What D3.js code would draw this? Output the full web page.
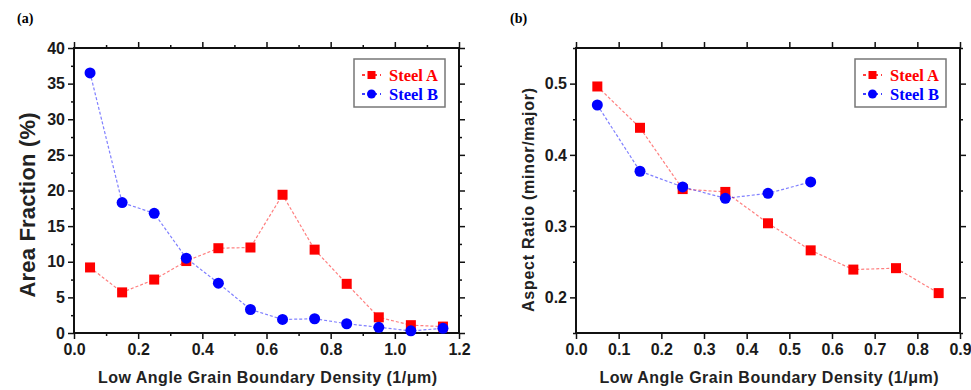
<!DOCTYPE html>
<html>
<head>
<meta charset="utf-8">
<script src="https://cdn.jsdelivr.net/npm/d3@7"></script>
<style>
  body { margin: 0; background: #fff; }
  svg { display: block; }
  .tick text { font-family: "Liberation Sans", Arial, sans-serif; font-weight: bold; font-size: 16px; fill: #1a1a1a; }
</style>
</head>
<body>
<svg id="chart" width="971" height="390"></svg>
<script>
// panel (a) data
var densityA = [0.05, 0.15, 0.25, 0.35, 0.45, 0.55, 0.65, 0.75, 0.85, 0.95, 1.05, 1.15];
var areaSteelA = [9.2, 5.7, 7.5, 10.1, 11.9, 12.0, 19.4, 11.7, 6.9, 2.2, 1.1, 0.9];
var areaSteelB = [36.5, 18.3, 16.8, 10.5, 7.0, 3.3, 1.9, 2.0, 1.3, 0.8, 0.3, 0.65];

// panel (b) data
var densityB_A = [0.05, 0.15, 0.25, 0.35, 0.45, 0.55, 0.65, 0.75, 0.85];
var ratioSteelA = [0.496, 0.438, 0.352, 0.348, 0.304, 0.266, 0.239, 0.241, 0.206];
var densityB_B = [0.05, 0.15, 0.25, 0.35, 0.45, 0.55];
var ratioSteelB = [0.470, 0.377, 0.355, 0.339, 0.346, 0.362];

var seriesNames = ["Steel A", "Steel B"];
var xLabel = "Low Angle Grain Boundary Density (1/\u03bcm)";

var red = "#ff0000", blue = "#0000ff";
var svg = d3.select("#chart");

function panel(opts) {
  var g = svg.append("g");
  var x = d3.scaleLinear().domain(opts.xDomain).range([opts.left, opts.right]);
  var y = d3.scaleLinear().domain(opts.yDomain).range([opts.bottom, opts.top]);

  // minor ticks (short, no labels)
  function minor(axis, vals, pos) {
    g.append("g").attr("transform", pos)
      .call(axis.tickValues(vals).tickSize(3).tickFormat(""))
      .call(function(s){ s.select(".domain").remove(); s.selectAll("line").attr("stroke", "#111").attr("stroke-width", 1.5); });
  }
  minor(d3.axisBottom(x), opts.xMinor, "translate(0," + opts.bottom + ")");
  minor(d3.axisTop(x), opts.xMinor, "translate(0," + opts.top + ")");
  minor(d3.axisLeft(y), opts.yMinor, "translate(" + opts.left + ",0)");
  minor(d3.axisRight(y), opts.yMinor, "translate(" + opts.right + ",0)");

  // major ticks
  function major(axis, vals, pos, fmt, pad) {
    var a = g.append("g").attr("transform", pos)
      .call(axis.tickValues(vals).tickSize(6).tickPadding(pad || 3).tickFormat(fmt || ""));
    a.select(".domain").remove();
    a.selectAll("line").attr("stroke", "#111").attr("stroke-width", 1.5);
    return a;
  }
  major(d3.axisBottom(x), opts.xTicks, "translate(0," + opts.bottom + ")", opts.xFmt, 5);
  major(d3.axisTop(x), opts.xTicks, "translate(0," + opts.top + ")");
  major(d3.axisLeft(y), opts.yTicks, "translate(" + opts.left + ",0)", opts.yFmt, 3);
  major(d3.axisRight(y), opts.yTicks, "translate(" + opts.right + ",0)");

  // frame
  g.append("rect")
    .attr("x", opts.left).attr("y", opts.top)
    .attr("width", opts.right - opts.left).attr("height", opts.bottom - opts.top)
    .attr("fill", "none").attr("stroke", "#111").attr("stroke-width", 2);

  var line = d3.line().x(function(d){ return x(d[0]); }).y(function(d){ return y(d[1]); });

  opts.series.forEach(function(s) {
    var pts = d3.zip(s.xs, s.ys);
    g.append("path").datum(pts)
      .attr("d", line)
      .attr("fill", "none")
      .attr("stroke", s.color)
      .attr("stroke-opacity", 0.5)
      .attr("stroke-width", 1.2)
      .attr("stroke-dasharray", "3,2");
    if (s.shape === "square") {
      g.selectAll(null).data(pts).enter().append("rect")
        .attr("x", function(d){ return x(d[0]) - 5; })
        .attr("y", function(d){ return y(d[1]) - 5; })
        .attr("width", 10).attr("height", 10)
        .attr("fill", s.color);
    } else {
      g.selectAll(null).data(pts).enter().append("circle")
        .attr("cx", function(d){ return x(d[0]); })
        .attr("cy", function(d){ return y(d[1]); })
        .attr("r", 5.5)
        .attr("fill", s.color);
    }
  });

  // legend
  var lg = g.append("g").attr("transform", "translate(" + opts.legX + "," + opts.legY + ")");
  lg.append("rect").attr("width", 91).attr("height", 48)
    .attr("fill", "#fff").attr("stroke", "#777").attr("stroke-width", 1.5);
  opts.series.forEach(function(s, i) {
    var ly = 16 + i * 19;
    lg.append("line").attr("x1", 8).attr("x2", 27).attr("y1", ly).attr("y2", ly)
      .attr("stroke", s.color).attr("stroke-width", 1.5).attr("stroke-dasharray", "3,3");
    if (s.shape === "square") {
      lg.append("rect").attr("x", 13.5).attr("y", ly - 4).attr("width", 8).attr("height", 8).attr("fill", s.color);
    } else {
      lg.append("circle").attr("cx", 17.5).attr("cy", ly).attr("r", 4.5).attr("fill", s.color);
    }
    lg.append("text").attr("x", 35).attr("y", ly + 5.5)
      .attr("font-family", "'Liberation Serif', 'Times New Roman', serif")
      .attr("font-weight", "bold").attr("font-size", 16)
      .attr("textLength", 49).attr("lengthAdjust", "spacingAndGlyphs")
      .attr("fill", s.color).text(s.name);
  });

  // panel label
  svg.append("text").attr("x", opts.tagX).attr("y", 23)
    .attr("font-family", "'Liberation Serif', 'Times New Roman', serif")
    .attr("font-weight", "bold").attr("font-size", 14).text(opts.tag);

  // axis titles
  svg.append("text")
    .attr("x", (opts.left + opts.right) / 2 + 1).attr("y", 383)
    .attr("text-anchor", "middle")
    .attr("font-family", "'Liberation Sans', Arial, sans-serif")
    .attr("font-weight", "bold").attr("font-size", 16).attr("fill", "#222")
    .attr("textLength", 339).attr("lengthAdjust", "spacing")
    .text(xLabel);
  svg.append("text")
    .attr("transform", "translate(" + opts.yLabelX + "," + opts.yLabelY + ") rotate(-90)")
    .attr("text-anchor", "middle")
    .attr("font-family", "'Liberation Sans', Arial, sans-serif")
    .attr("font-weight", "bold").attr("font-size", opts.yLabelSize).attr("fill", "#222")
    .attr("textLength", opts.yLabelLen).attr("lengthAdjust", "spacing")
    .text(opts.yLabel);
}

panel({
  left: 74, right: 459, top: 48, bottom: 333,
  xDomain: [0, 1.2], yDomain: [0, 40],
  xTicks: d3.range(0, 1.21, 0.2), xMinor: d3.range(0.1, 1.2, 0.2),
  yTicks: d3.range(0, 41, 5), yMinor: d3.range(2.5, 40, 5),
  xFmt: d3.format(".1f"), yFmt: d3.format("d"),
  series: [
    { name: seriesNames[0], xs: densityA, ys: areaSteelA, color: red, shape: "square" },
    { name: seriesNames[1], xs: densityA, ys: areaSteelB, color: blue, shape: "circle" }
  ],
  legX: 354, legY: 59,
  tag: "(a)", tagX: 17,
  yLabel: "Area Fraction (%)", yLabelX: 35, yLabelY: 205, yLabelSize: 22, yLabelLen: 185
});

panel({
  left: 576, right: 960, top: 48, bottom: 333,
  xDomain: [0, 0.9], yDomain: [0.15, 0.55],
  xTicks: d3.range(0, 0.91, 0.1), xMinor: [],
  yTicks: [0.2, 0.3, 0.4, 0.5], yMinor: [0.15, 0.25, 0.35, 0.45, 0.55],
  xFmt: d3.format(".1f"), yFmt: d3.format(".1f"),
  series: [
    { name: seriesNames[0], xs: densityB_A, ys: ratioSteelA, color: red, shape: "square" },
    { name: seriesNames[1], xs: densityB_B, ys: ratioSteelB, color: blue, shape: "circle" }
  ],
  legX: 855, legY: 59,
  tag: "(b)", tagX: 510,
  yLabel: "Aspect Ratio (minor/major)", yLabelX: 534, yLabelY: 200, yLabelSize: 16, yLabelLen: 224
});
</script>
</body>
</html>
